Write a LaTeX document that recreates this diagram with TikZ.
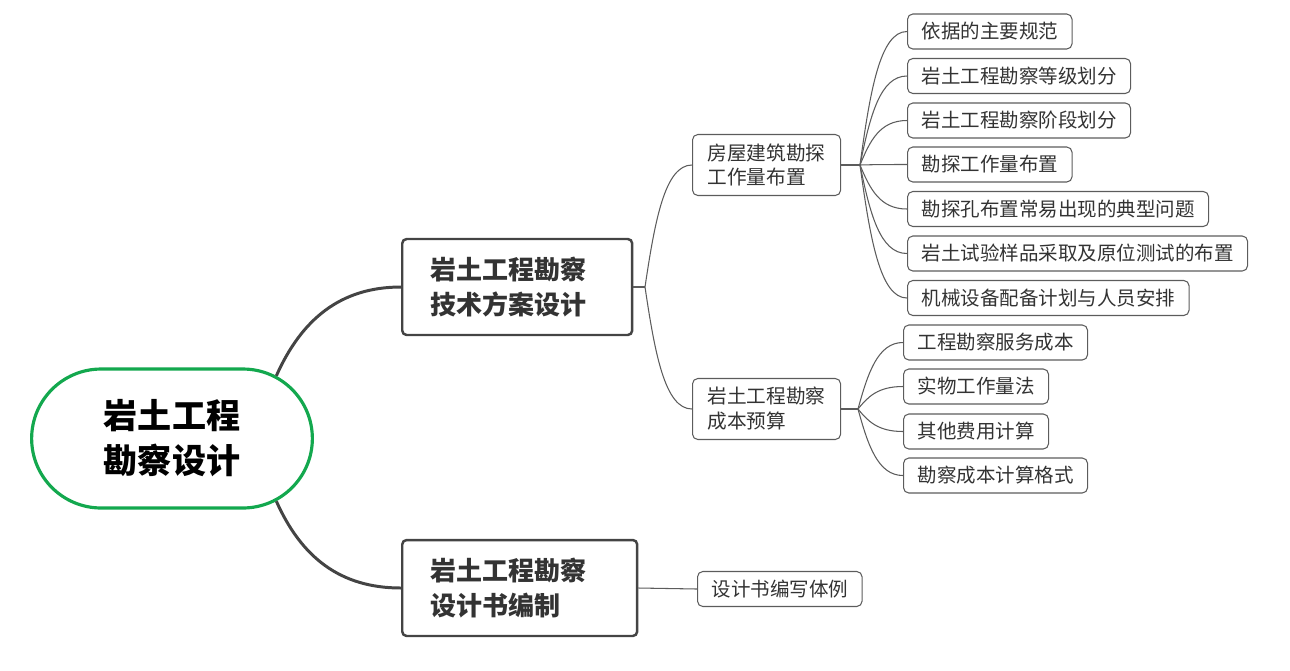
\documentclass[tikz,border=0pt]{standalone}
\usepackage{fontspec}
\setmainfont{Noto Sans CJK SC}
\usepackage{xcolor}
\usepackage{tikz}
\usetikzlibrary{calc,shapes.misc}
\definecolor{rootgreen}{HTML}{13A84E}
\definecolor{boxgray}{HTML}{444444}
\definecolor{linegray}{HTML}{5C5C5C}
\definecolor{textgray}{HTML}{333333}
\tikzset{
  rootnode/.style={rounded rectangle,draw=rootgreen,line width=1.8pt,minimum width=5.85cm,minimum height=2.78cm,align=center,font=\bfseries\fontsize{19.4pt}{25.5pt}\selectfont},
  mainbox/.style={draw=boxgray,line width=1.4pt,rounded corners=2.5pt,align=left,text width=3.48cm,inner xsep=0.56cm,minimum height=1.92cm,text=textgray,font=\bfseries\fontsize{14.8pt}{20.4pt}\selectfont},
  subbox/.style={draw=linegray,line width=0.6pt,rounded corners=3pt,align=left,inner xsep=0.3cm,minimum height=1.22cm,text=textgray,font=\fontsize{11.2pt}{14.2pt}\selectfont},
  leafbox/.style={draw=linegray,line width=0.6pt,rounded corners=3pt,inner xsep=0.28cm,minimum height=0.7cm,text=textgray,font=\fontsize{11.1pt}{13pt}\selectfont},
  thickline/.style={draw=boxgray,line width=1.7pt},
  thinline/.style={draw=linegray,line width=0.6pt},
  curvy/.style={to path={.. controls ($(\tikztostart)!0.55!(\tikztostart|-\tikztotarget)+(10,0)$) and ($(\tikztostart|-\tikztotarget)+(20,0)$) .. (\tikztotarget)}}
}

\begin{document}
\begin{tikzpicture}[x=0.02cm,y=-0.02cm]
  \useasboundingbox (0,0) rectangle (1290,670);
  %% centre and first level
  \node[rootnode] (root) at (172,438.5) {岩土工程\\勘察设计};
  \node[mainbox,anchor=west] (bTech) at (401,287) {岩土工程勘察\\技术方案设计};
  \node[mainbox,anchor=west,text width=3.58cm] (bBook) at (401,588) {岩土工程勘察\\设计书编制};
  \draw[thickline] (root.31) .. controls +(25,-56) and +(-61,0) .. (bTech.west);
  \draw[thickline] (root.-31) .. controls +(25,56) and +(-61,0) .. (bBook.west);
  %% second level
  \node[subbox,anchor=west] (sWork) at (692,165) {房屋建筑勘探\\工作量布置};
  \node[subbox,anchor=west] (sCost) at (692,409) {岩土工程勘察\\成本预算};
  \node[leafbox,anchor=west] (sStyle) at (697,589) {设计书编写体例};
  \coordinate (jTech) at (645,287);
  \draw[thinline] (bTech.east) -- (jTech);
  \draw[thinline] (jTech) to[curvy] (sWork.west);
  \draw[thinline] (jTech) to[curvy] (sCost.west);
  \draw[thinline] (bBook.east) -- (sStyle.west);
  %% leaves of the work-layout branch
  \node[leafbox,anchor=west] (wA) at (907,31.5) {依据的主要规范};
  \node[leafbox,anchor=west] (wB) at (907,76) {岩土工程勘察等级划分};
  \node[leafbox,anchor=west] (wC) at (907,120.5) {岩土工程勘察阶段划分};
  \node[leafbox,anchor=west] (wD) at (907,164.5) {勘探工作量布置};
  \node[leafbox,anchor=west] (wE) at (907,209) {勘探孔布置常易出现的典型问题};
  \node[leafbox,anchor=west] (wF) at (907,253.5) {岩土试验样品采取及原位测试的布置};
  \node[leafbox,anchor=west] (wG) at (907,298) {机械设备配备计划与人员安排};
  \coordinate (jWork) at (860,165);
  \draw[thinline] (sWork.east) -- (jWork);
  \draw[thinline] (jWork) to[curvy] (wA.west);\draw[thinline] (jWork) to[curvy] (wB.west);
  \draw[thinline] (jWork) to[curvy] (wC.west);\draw[thinline] (jWork) to[curvy] (wD.west);
  \draw[thinline] (jWork) to[curvy] (wE.west);\draw[thinline] (jWork) to[curvy] (wF.west);
  \draw[thinline] (jWork) to[curvy] (wG.west);
  %% leaves of the cost branch
  \node[leafbox,anchor=west] (cA) at (903,342.5) {工程勘察服务成本};
  \node[leafbox,anchor=west] (cB) at (903,386.5) {实物工作量法};
  \node[leafbox,anchor=west] (cC) at (903,431.5) {其他费用计算};
  \node[leafbox,anchor=west] (cD) at (903,475.5) {勘察成本计算格式};
  \coordinate (jCost) at (858,409);
  \draw[thinline] (sCost.east) -- (jCost);
  \draw[thinline] (jCost) to[curvy] (cA.west);\draw[thinline] (jCost) to[curvy] (cB.west);
  \draw[thinline] (jCost) to[curvy] (cC.west);\draw[thinline] (jCost) to[curvy] (cD.west);
\end{tikzpicture}
\end{document}
